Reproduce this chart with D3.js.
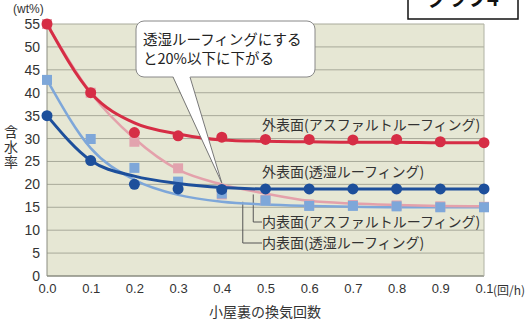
<!DOCTYPE html>
<html><head><meta charset="utf-8">
<script src="https://cdn.jsdelivr.net/npm/d3@7"></script>
<style>
body{margin:0;background:#fff;}
text{font-family:"Liberation Sans","Noto Sans CJK JP",sans-serif;}
.jp{font-family:"Noto Sans CJK JP",sans-serif;}
</style></head><body>
<svg id="c" width="527" height="322"></svg>
<script>
// ---- data ----
const xs = [0.0,0.1,0.2,0.3,0.4,0.5,0.6,0.7,0.8,0.9,1.0];
const xTickLabels = ["0.0","0.1","0.2","0.3","0.4","0.5","0.6","0.7","0.8","0.9","0.1"];
const yTicks = [0,5,10,15,20,25,30,35,40,45,50,55];
// outer surface, asphalt roofing (red circles + fitted line)
const outerAsphaltPts  = [55,40,31.3,30.6,30.3,29.8,29.8,29.7,29.8,29.3,29.1];
const outerAsphaltLine = [55,40,33.4,31.0,29.7,29.4,29.3,29.2,29.2,29.1,29.1];
// inner surface, asphalt roofing (pink squares + line)
const innerAsphaltPts  = [55,40,29.3,23.5,17.8,16.6,15.6,15.5,15.4,15.2,15.1];
const innerAsphaltLine = [55,40,30.0,23.2,20.0,18.0,16.4,15.8,15.5,15.3,15.2];
// outer surface, breathable roofing (dark blue circles + line)
const outerBreathPts  = [35,25.2,20.0,19.0,18.9,19.0,19.0,19.0,19.0,19.0,19.0];
const outerBreathLine = [35,25.2,21.8,20.2,19.3,19.0,19.0,19.0,19.0,19.0,19.0];
// inner surface, breathable roofing (light blue squares + line)
const innerBreathPts  = [42.8,29.9,23.6,20.6,18.0,16.5,15.3,15.3,15.2,15.0,15.0];
const innerBreathLine = [42.8,27.9,21.0,17.7,16.2,15.6,15.3,15.1,15.0,15.0,15.0];
const seriesLabels = ["外表面(アスファルトルーフィング)","外表面(透湿ルーフィング)","内表面(アスファルトルーフィング)","内表面(透湿ルーフィング)"];

const svg = d3.select("#c");
const x = d3.scaleLinear().domain([0,1]).range([47,484]);
const y = d3.scaleLinear().domain([0,55]).range([276,24]);

// plot background
svg.append("rect").attr("x",x(0)).attr("y",y(55)).attr("width",x(1)-x(0)).attr("height",y(0)-y(55)).attr("fill","#e6e7d4");
// gridlines
svg.append("g").selectAll("line").data(yTicks).join("line")
  .attr("x1",x(0)).attr("x2",x(1)).attr("y1",d=>y(d)).attr("y2",d=>y(d))
  .attr("stroke",d=>d===0?"#8a8c80":"#a8aa9a").attr("stroke-width",d=>d===0?1.5:1);
svg.append("line").attr("x1",x(0)).attr("x2",x(0)).attr("y1",y(55)).attr("y2",y(0)).attr("stroke","#8a8c80");
svg.append("line").attr("x1",x(1)).attr("x2",x(1)).attr("y1",y(55)).attr("y2",y(0)).attr("stroke","#b0b2a4");

// axes
const yAx = svg.append("g").attr("transform",`translate(${x(0)},0)`)
  .call(d3.axisLeft(y).tickValues(yTicks).tickSize(0).tickPadding(7));
yAx.select(".domain").remove();
yAx.selectAll("text").attr("font-size",14).attr("fill","#333");
const xAx = svg.append("g").attr("transform",`translate(0,${y(0)})`)
  .call(d3.axisBottom(x).tickValues(xs).tickSize(0).tickPadding(8).tickFormat((d,i)=>xTickLabels[i]));
xAx.select(".domain").remove();
xAx.selectAll("text").attr("font-size",13).attr("fill","#333");
svg.append("text").attr("class","jp").attr("x",x(1)+9).attr("y",y(0)+19).attr("font-size",12).attr("fill","#333").text("(回/h)");

svg.append("text").attr("class","jp").attr("x",265).attr("y",317).attr("text-anchor","middle").attr("font-size",14).attr("fill","#333").text("小屋裏の換気回数");
svg.append("text").attr("x",13).attr("y",13).attr("font-size",12).attr("fill","#333").text("(wt%)");
svg.append("text").attr("class","jp").attr("x",11).attr("y",125)
  .attr("writing-mode","vertical-rl").attr("font-size",14).attr("letter-spacing",1).attr("fill","#333").text("含水率");

// lines
const line = d3.line().x((d,i)=>x(xs[i])).y(d=>y(d)).curve(d3.curveMonotoneX);
const C = {red:"#d62d45", pink:"#e4a1ab", dblue:"#1d4f9b", lblue:"#7ea7d9"};
function drawLine(vals,col,w){svg.append("path").attr("d",line(vals)).attr("fill","none").attr("stroke",col).attr("stroke-width",w);}
function drawSq(vals,col){svg.append("g").selectAll("rect").data(vals).join("rect")
  .attr("x",(d,i)=>x(xs[i])-5).attr("y",d=>y(d)-5).attr("width",10).attr("height",10).attr("fill",col);}
function drawCirc(vals,col){svg.append("g").selectAll("circle").data(vals).join("circle")
  .attr("cx",(d,i)=>x(xs[i])).attr("cy",d=>y(d)).attr("r",5.5).attr("fill",col);}

// leader lines for inner labels
svg.append("path").attr("d",`M${x(0.472)},${y(17.8)}V222H262`).attr("fill","none").attr("stroke","#555").attr("stroke-width",1);
svg.append("path").attr("d",`M${x(0.448)},${y(16.2)}V243H262`).attr("fill","none").attr("stroke","#555").attr("stroke-width",1);

drawLine(innerBreathLine,C.lblue,2.5);
drawLine(innerAsphaltLine,C.pink,2.5);
drawSq(innerAsphaltPts,"#e2a3ae");
drawSq(innerBreathPts,C.lblue);
drawLine(outerBreathLine,C.dblue,3);
drawLine(outerAsphaltLine,C.red,3);
drawCirc(outerAsphaltPts,C.red);
drawCirc(outerBreathPts,C.dblue);

// series labels
const lab = [[262,130],[262,177],[262,227],[262,248]];
seriesLabels.forEach((t,i)=>svg.append("text").attr("class","jp").attr("x",lab[i][0]).attr("y",lab[i][1]).attr("font-size",14).attr("fill","#333").text(t));

// callout
const tipX = x(0.4), tipY = y(20.3);
svg.append("rect").attr("x",136).attr("y",21).attr("width",179).attr("height",56).attr("rx",8).attr("fill","#fff").attr("stroke","#888").attr("stroke-width",1);
svg.append("path").attr("d",`M173,76L${tipX},${tipY}L190,76Z`).attr("fill","#fff").attr("stroke","none");
svg.append("path").attr("d",`M173,77L${tipX},${tipY}L190,77`).attr("fill","none").attr("stroke","#777").attr("stroke-width",1);
svg.append("text").attr("class","jp").attr("x",143).attr("y",45).attr("font-size",14.5).attr("fill","#222").text("透湿ルーフィングにする");
svg.append("text").attr("class","jp").attr("x",143).attr("y",64).attr("font-size",14.5).attr("fill","#222").text("と20%以下に下がる");

// top-right tag
svg.append("rect").attr("x",408).attr("y",-10).attr("width",110).attr("height",29).attr("fill","#fff").attr("stroke","#111").attr("stroke-width",1.5);
svg.append("text").attr("class","jp").attr("x",463).attr("y",6).attr("text-anchor","middle").attr("font-size",20).attr("font-weight","bold").attr("fill","#111").text("グラフ4");
</script></body></html>
